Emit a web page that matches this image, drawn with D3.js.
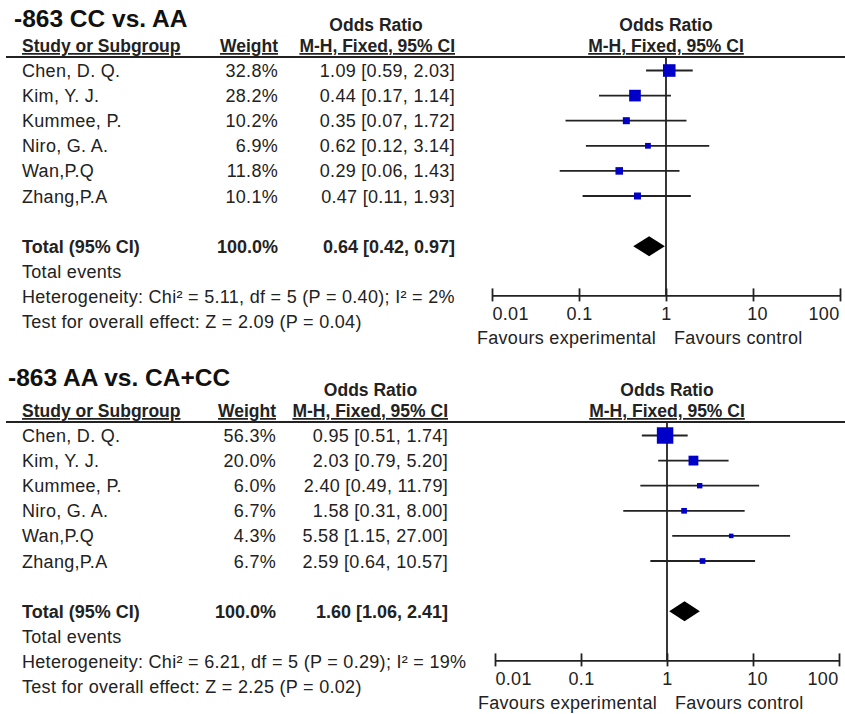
<!DOCTYPE html>
<html><head><meta charset="utf-8">
<script src="https://cdn.jsdelivr.net/npm/d3@7"></script>
<style>
html,body{margin:0;padding:0;background:#fff;}
text{font-family:"Liberation Sans",Arial,sans-serif;fill:#222;}
</style></head>
<body>
<script>
// ---------- data ----------
const studies = ["Chen, D. Q.", "Kim, Y. J.", "Kummee, P.", "Niro, G. A.", "Wan,P.Q", "Zhang,P.A"];

const titleA = "-863 CC vs. AA";
const weightsA = [32.8, 28.2, 10.2, 6.9, 11.8, 10.1];
const orA = [1.09, 0.44, 0.35, 0.62, 0.29, 0.47];
const lowA = [0.59, 0.17, 0.07, 0.12, 0.06, 0.11];
const highA = [2.03, 1.14, 1.72, 3.14, 1.43, 1.93];
const totalA = [0.64, 0.42, 0.97];
const hetA = "Heterogeneity: Chi² = 5.11, df = 5 (P = 0.40); I² = 2%";
const testA = "Test for overall effect: Z = 2.09 (P = 0.04)";

const titleB = "-863 AA vs. CA+CC";
const weightsB = [56.3, 20.0, 6.0, 6.7, 4.3, 6.7];
const orB = [0.95, 2.03, 2.40, 1.58, 5.58, 2.59];
const lowB = [0.51, 0.79, 0.49, 0.31, 1.15, 0.64];
const highB = [1.74, 5.20, 11.79, 8.00, 27.00, 10.57];
const totalB = [1.60, 1.06, 2.41];
const hetB = "Heterogeneity: Chi² = 6.21, df = 5 (P = 0.29); I² = 19%";
const testB = "Test for overall effect: Z = 2.25 (P = 0.02)";

const axisTicks = [0.01, 0.1, 1, 10, 100];
const tickLabels = ["0.01", "0.1", "1", "10", "100"];
const favours = ["Favours experimental", "Favours control"];

// ---------- drawing ----------
const W = 845, H = 714;
const svg = d3.select("body").append("svg").attr("width", W).attr("height", H);
svg.append("rect").attr("width", W).attr("height", H).attr("fill", "#fff");

const f2 = d3.format(".2f"), f1 = d3.format(".1f");
const sizeScale = d3.scaleSqrt().domain([0, 60]).range([0, 17]);
const LS = 0.3; // letter spacing of body text

function panel(cfg) {
  const g = svg.append("g");
  const lineY = cfg.lineY;
  const rowH = 25.1;
  const y = d3.scaleLinear().domain([0, 1]).range([lineY + 13.5, lineY + 13.5 + rowH]);
  const x = d3.scaleLog().domain([0.01, 100]).range([cfg.x0, cfg.x1]);
  const fs = 18, hs = 17.5;
  const textOff = 6.5;
  const body = (sel) => sel.attr("font-size", fs).attr("letter-spacing", LS);

  // title
  g.append("text").attr("x", cfg.titleX).attr("y", cfg.titleY)
    .attr("font-size", 24.5).attr("font-weight", "bold").style("fill", "#111").text(cfg.title);

  // left headers
  g.append("text").attr("x", (cfg.orX + cfg.orLeft) / 2).attr("y", lineY - 26)
    .attr("text-anchor", "middle").attr("font-size", hs).attr("font-weight", "bold").text("Odds Ratio");
  g.append("text").attr("x", 22).attr("y", lineY - 5)
    .attr("font-size", hs).attr("font-weight", "bold").attr("text-decoration", "underline").text("Study or Subgroup");
  g.append("text").attr("x", cfg.wX).attr("y", lineY - 5).attr("text-anchor", "end")
    .attr("font-size", hs).attr("font-weight", "bold").attr("text-decoration", "underline").text("Weight");
  g.append("text").attr("x", cfg.orX).attr("y", lineY - 5).attr("text-anchor", "end")
    .attr("font-size", hs).attr("font-weight", "bold").attr("text-decoration", "underline").text("M-H, Fixed, 95% CI");

  // right headers
  const xc = x(1);
  g.append("text").attr("x", xc).attr("y", lineY - 26)
    .attr("text-anchor", "middle").attr("font-size", hs).attr("font-weight", "bold").text("Odds Ratio");
  g.append("text").attr("x", xc).attr("y", lineY - 5)
    .attr("text-anchor", "middle").attr("font-size", hs).attr("font-weight", "bold").attr("text-decoration", "underline").text("M-H, Fixed, 95% CI");

  // separator
  g.append("line").attr("x1", 6).attr("x2", W).attr("y1", lineY).attr("y2", lineY)
    .attr("stroke", "#222").attr("stroke-width", 1.8);

  const rows = studies.map((s, i) => ({ s, w: cfg.w[i], or: cfg.or[i], lo: cfg.lo[i], hi: cfg.hi[i], i }));

  // study rows text
  rows.forEach(d => {
    const yy = y(d.i) + textOff;
    body(g.append("text").attr("x", 22).attr("y", yy)).text(d.s);
    body(g.append("text").attr("x", cfg.wX).attr("y", yy).attr("text-anchor", "end")).text(f1(d.w) + "%");
    body(g.append("text").attr("x", cfg.orX).attr("y", yy).attr("text-anchor", "end"))
      .text(`${f2(d.or)} [${f2(d.lo)}, ${f2(d.hi)}]`);
  });

  // total rows
  const ty = y(7) + textOff;
  g.append("text").attr("x", 22).attr("y", ty).attr("font-size", fs).attr("font-weight", "bold").text("Total (95% CI)");
  g.append("text").attr("x", cfg.wX).attr("y", ty).attr("font-size", fs).attr("font-weight", "bold").attr("text-anchor", "end").text("100.0%");
  g.append("text").attr("x", cfg.orX).attr("y", ty).attr("font-size", fs).attr("font-weight", "bold").attr("text-anchor", "end")
    .text(`${f2(cfg.total[0])} [${f2(cfg.total[1])}, ${f2(cfg.total[2])}]`);
  body(g.append("text").attr("x", 22).attr("y", y(8) + textOff)).text("Total events");
  body(g.append("text").attr("x", 22).attr("y", y(9) + textOff)).text(cfg.het);
  body(g.append("text").attr("x", 22).attr("y", y(10) + textOff)).text(cfg.test);

  // vertical line at 1
  const axisY = y(9) - 1;
  g.append("line").attr("x1", xc).attr("x2", xc).attr("y1", lineY).attr("y2", axisY)
    .attr("stroke", "#222").attr("stroke-width", 1.8);

  // CI lines
  g.selectAll(".ci").data(rows).join("line")
    .attr("x1", d => x(d.lo)).attr("x2", d => x(d.hi))
    .attr("y1", d => y(d.i)).attr("y2", d => y(d.i))
    .attr("stroke", "#222").attr("stroke-width", 1.8);
  // squares
  const side = d => Math.max(4, sizeScale(d.w));
  g.selectAll(".sq").data(rows).join("rect")
    .attr("x", d => x(d.or) - side(d) / 2)
    .attr("y", d => y(d.i) - side(d) / 2)
    .attr("width", side).attr("height", side)
    .attr("fill", "#0000c8");

  // diamond
  const dy = y(7);
  g.append("path")
    .attr("d", `M${x(cfg.total[1])},${dy} L${x(cfg.total[0])},${dy - 10} L${x(cfg.total[2])},${dy} L${x(cfg.total[0])},${dy + 10} Z`)
    .attr("fill", "#000");

  // axis
  const axis = d3.axisBottom(x).tickValues(axisTicks).tickSize(0)
    .tickFormat((d, i) => tickLabels[i]);
  const ag = g.append("g").attr("transform", `translate(0,${axisY})`).call(axis);
  ag.select(".domain").attr("stroke", "#222").attr("stroke-width", 1.8);
  ag.selectAll(".tick line").attr("y1", -7).attr("y2", 6).attr("stroke", "#222").attr("stroke-width", 1.8);
  ag.selectAll(".tick text").attr("font-size", fs).attr("font-family", "Liberation Sans, Arial, sans-serif")
    .attr("letter-spacing", LS).attr("dy", 0).attr("y", 25).style("fill", "#222")
    .attr("text-anchor", (d, i) => i === 0 ? "start" : (i === axisTicks.length - 1 ? "end" : "middle"))
    .attr("x", (d, i) => i === 0 ? 0 : (i === axisTicks.length - 1 ? -1 : (i === 3 ? 4 : 0)));

  // favours
  body(g.append("text").attr("x", xc - 10).attr("y", axisY + 49).attr("text-anchor", "end")).text(favours[0]);
  body(g.append("text").attr("x", xc + 8).attr("y", axisY + 49)).text(favours[1]);
}

panel({ title: titleA, titleX: 14, titleY: 27, lineY: 57, x0: 492, x1: 840, wX: 278, orX: 455, orLeft: 297,
  w: weightsA, or: orA, lo: lowA, hi: highA, total: totalA, het: hetA, test: testA });
panel({ title: titleB, titleX: 8, titleY: 386, lineY: 422, x0: 495, x1: 839, wX: 276, orX: 448, orLeft: 293,
  w: weightsB, or: orB, lo: lowB, hi: highB, total: totalB, het: hetB, test: testB });
</script>
</body></html>
